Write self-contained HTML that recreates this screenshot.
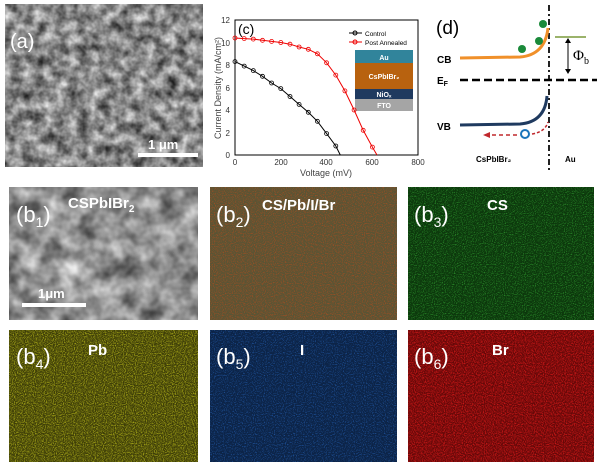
<!DOCTYPE html><html><head><style>body{margin:0;background:#fff;width:600px;height:465px;overflow:hidden;font-family:"Liberation Sans",sans-serif}</style></head><body>
<svg width="600" height="465" viewBox="0 0 600 465" xmlns="http://www.w3.org/2000/svg" font-family="Liberation Sans, sans-serif">
<defs>
<filter id="sem" x="0" y="0" width="100%" height="100%" color-interpolation-filters="sRGB"><feTurbulence type="fractalNoise" baseFrequency="0.09" numOctaves="3" seed="3"/><feColorMatrix type="matrix" values="1 0 0 0 0.03  1 0 0 0 0.03  1 0 0 0 0.03  0 0 0 0 1"/></filter>
<filter id="sem2" x="0" y="0" width="100%" height="100%" color-interpolation-filters="sRGB"><feTurbulence type="fractalNoise" baseFrequency="0.05" numOctaves="3" seed="7"/><feColorMatrix type="matrix" values="0.9 0 0 0 0.12  0.9 0 0 0 0.12  0.9 0 0 0 0.12  0 0 0 0 1"/></filter>
<filter id="dG" x="0" y="0" width="100%" height="100%" color-interpolation-filters="sRGB"><feTurbulence type="fractalNoise" baseFrequency="0.9" numOctaves="1" seed="2"/><feColorMatrix type="matrix" values="0 0 0 0 0.2  0 0 0 0 0.65  0 0 0 0 0.2  2.5 0 0 0 -1.2"/></filter>
<filter id="dY" x="0" y="0" width="100%" height="100%" color-interpolation-filters="sRGB"><feTurbulence type="fractalNoise" baseFrequency="0.9" numOctaves="1" seed="4"/><feColorMatrix type="matrix" values="0 0 0 0 0.72  0 0 0 0 0.72  0 0 0 0 0.1  2.5 0 0 0 -1.05"/></filter>
<filter id="dB" x="0" y="0" width="100%" height="100%" color-interpolation-filters="sRGB"><feTurbulence type="fractalNoise" baseFrequency="0.9" numOctaves="1" seed="5"/><feColorMatrix type="matrix" values="0 0 0 0 0.15  0 0 0 0 0.4  0 0 0 0 0.75  2.5 0 0 0 -1.25"/></filter>
<filter id="dR" x="0" y="0" width="100%" height="100%" color-interpolation-filters="sRGB"><feTurbulence type="fractalNoise" baseFrequency="0.9" numOctaves="1" seed="6"/><feColorMatrix type="matrix" values="0 0 0 0 0.85  0 0 0 0 0.1  0 0 0 0 0.1  2.5 0 0 0 -1.0"/></filter>
<filter id="dM" x="0" y="0" width="100%" height="100%" color-interpolation-filters="sRGB"><feTurbulence type="fractalNoise" baseFrequency="0.9" numOctaves="1" seed="8"/><feColorMatrix type="matrix" values="0 0 0 0 0.7  0 0 0 0 0.3  0 0 0 0 0.12  2.5 0 0 0 -1.15"/></filter>
</defs>
<rect x="5" y="4" width="198" height="163" fill="#888" filter="url(#sem)"/>
<text x="10" y="48" font-size="20" fill="#fff">(a)</text>
<rect x="138" y="153" width="60" height="4" fill="#fff"/>
<text x="148" y="149" font-size="13" font-weight="bold" fill="#fff">1 μm</text>
<rect x="235" y="20" width="183" height="135" fill="#fff" stroke="#000" stroke-width="1"/>
<g font-size="8" fill="#333" text-anchor="middle">
<text x="235" y="165">0</text><text x="281" y="165">200</text><text x="326" y="165">400</text><text x="372" y="165">600</text><text x="418" y="165">800</text>
<text x="230" y="158" text-anchor="end">0</text><text x="230" y="136" text-anchor="end">2</text><text x="230" y="113" text-anchor="end">4</text><text x="230" y="91" text-anchor="end">6</text><text x="230" y="68" text-anchor="end">8</text><text x="230" y="46" text-anchor="end">10</text><text x="230" y="23" text-anchor="end">12</text>
</g>
<text x="326" y="176" font-size="9" fill="#444" text-anchor="middle">Voltage (mV)</text>
<text transform="translate(221,88) rotate(-90)" font-size="9" fill="#444" text-anchor="middle">Current Density (mA/cm²)</text>
<text x="238" y="34" font-size="14" fill="#000">(c)</text>
<line x1="349" y1="33" x2="362" y2="33" stroke="#000"/><circle cx="355" cy="33" r="2" fill="none" stroke="#000"/><text x="365" y="36" font-size="6.5">Control</text>
<line x1="349" y1="42" x2="362" y2="42" stroke="#e00"/><circle cx="355" cy="42" r="2" fill="none" stroke="#e00"/><text x="365" y="45" font-size="6.5">Post Annealed</text>
<rect x="355" y="50" width="58" height="13" fill="#31849b"/><text x="384" y="60" font-size="7" font-weight="bold" fill="#fff" text-anchor="middle">Au</text>
<rect x="355" y="63" width="58" height="26" fill="#b8620f"/><text x="384" y="79" font-size="7" font-weight="bold" fill="#fff" text-anchor="middle">CsPbIBr₂</text>
<rect x="355" y="89" width="58" height="10" fill="#1f3a5f"/><text x="384" y="97" font-size="7" font-weight="bold" fill="#fff" text-anchor="middle">NiOₓ</text>
<rect x="355" y="99" width="58" height="12" fill="#a5a5a5"/><text x="384" y="108" font-size="7" font-weight="bold" fill="#fff" text-anchor="middle">FTO</text>
<polyline fill="none" stroke="#000" stroke-width="1" points="235,61.6 244.2,66.1 253.3,70.6 262.5,76.3 271.6,83 280.8,88.6 290,96.5 299.1,104.4 308.3,112.3 317.4,121.3 326.6,133.6 335.8,146 340.3,155"/>
<g fill="none" stroke="#000" stroke-width="0.8"><circle cx="235" cy="61.6" r="2"/><circle cx="244.2" cy="66.1" r="2"/><circle cx="253.3" cy="70.6" r="2"/><circle cx="262.5" cy="76.3" r="2"/><circle cx="271.6" cy="83" r="2"/><circle cx="280.8" cy="88.6" r="2"/><circle cx="290" cy="96.5" r="2"/><circle cx="299.1" cy="104.4" r="2"/><circle cx="308.3" cy="112.3" r="2"/><circle cx="317.4" cy="121.3" r="2"/><circle cx="326.6" cy="133.6" r="2"/><circle cx="335.8" cy="146" r="2"/></g>
<polyline fill="none" stroke="#e00" stroke-width="1" points="235,38 244.2,38.6 253.3,39.1 262.5,40.3 271.6,41.4 280.8,42.5 290,44.2 299.1,47 308.3,49.3 317.4,53.8 326.6,62.8 335.8,75.1 344.9,90.9 354.1,110 363.2,130.3 372.4,147.1 377,155"/>
<g fill="none" stroke="#e00" stroke-width="0.8"><circle cx="235" cy="38" r="2"/><circle cx="244.2" cy="38.6" r="2"/><circle cx="253.3" cy="39.1" r="2"/><circle cx="262.5" cy="40.3" r="2"/><circle cx="271.6" cy="41.4" r="2"/><circle cx="280.8" cy="42.5" r="2"/><circle cx="290" cy="44.2" r="2"/><circle cx="299.1" cy="47" r="2"/><circle cx="308.3" cy="49.3" r="2"/><circle cx="317.4" cy="53.8" r="2"/><circle cx="326.6" cy="62.8" r="2"/><circle cx="335.8" cy="75.1" r="2"/><circle cx="344.9" cy="90.9" r="2"/><circle cx="354.1" cy="110" r="2"/><circle cx="363.2" cy="130.3" r="2"/><circle cx="372.4" cy="147.1" r="2"/></g>
<text x="436" y="34" font-size="19">(d)</text>
<line x1="549" y1="5" x2="549" y2="172" stroke="#222" stroke-width="2" stroke-dasharray="6,3,2,3"/>
<line x1="460" y1="80" x2="597" y2="80" stroke="#000" stroke-width="2.5" stroke-dasharray="8,4"/>
<path d="M460,58 L520,57 Q545,55 548,28" fill="none" stroke="#f0902a" stroke-width="3"/>
<path d="M460,125 L520,124 Q545,122 547,96" fill="none" stroke="#1f3a5f" stroke-width="3"/>
<line x1="555" y1="37" x2="586" y2="37" stroke="#7a9a3a" stroke-width="1.5"/>
<line x1="568" y1="40" x2="568" y2="72" stroke="#000" stroke-width="1"/><polygon points="565,43 571,43 568,38"/><polygon points="565,69 571,69 568,74"/>
<text x="573" y="60" font-size="15" font-family="Liberation Serif, serif">Φ<tspan font-size="10" dy="4">b</tspan></text>
<circle cx="543" cy="24" r="4" fill="#1a8a3a"/><circle cx="539" cy="41" r="4" fill="#1a8a3a"/><circle cx="522" cy="49" r="4" fill="#1a8a3a"/>
<circle cx="525" cy="134" r="4" fill="none" stroke="#1b75bb" stroke-width="2"/>
<path d="M517,135 L486,135" stroke="#c0282d" stroke-width="1.5" stroke-dasharray="4,3" fill="none"/><polygon points="483,135 490,132 490,138" fill="#c0282d"/>
<path d="M532,134 Q545,132 548,122" stroke="#c0282d" stroke-width="1.5" stroke-dasharray="3,2" fill="none"/>
<text x="437" y="63" font-size="10" font-weight="bold">CB</text>
<text x="437" y="84" font-size="10" font-weight="bold">E<tspan font-size="7" dy="2">F</tspan></text>
<text x="437" y="130" font-size="10" font-weight="bold">VB</text>
<text x="476" y="162" font-size="8" font-weight="bold">CsPbIBr₂</text>
<text x="565" y="162" font-size="8" font-weight="bold">Au</text>
<rect x="9" y="187" width="189" height="133" fill="#aaa" filter="url(#sem2)"/>
<text x="16" y="222" font-size="22" fill="#fff">(b<tspan font-size="14" dy="5">1</tspan><tspan dy="-5">)</tspan></text>
<text x="68" y="208" font-size="15" font-weight="bold" fill="#fff">CSPbIBr<tspan font-size="10" dy="4">2</tspan></text>
<rect x="22" y="303" width="64" height="4" fill="#fff"/><text x="38" y="298" font-size="13" font-weight="bold" fill="#fff">1μm</text>
<rect x="210" y="187" width="187" height="133" fill="#5a5434"/>
<rect x="210" y="187" width="187" height="133" fill="#000" filter="url(#dM)"/>
<text x="216" y="222" font-size="22" fill="#fff">(b<tspan font-size="14" dy="5">2</tspan><tspan dy="-5">)</tspan></text>
<text x="262" y="210" font-size="15" font-weight="bold" fill="#fff">CS/Pb/I/Br</text>
<rect x="408" y="187" width="186" height="133" fill="#0c380c"/>
<rect x="408" y="187" width="186" height="133" fill="#000" filter="url(#dG)"/>
<text x="414" y="222" font-size="22" fill="#fff">(b<tspan font-size="14" dy="5">3</tspan><tspan dy="-5">)</tspan></text>
<text x="487" y="210" font-size="15" font-weight="bold" fill="#fff">CS</text>
<rect x="9" y="330" width="189" height="132" fill="#3e3e08"/>
<rect x="9" y="330" width="189" height="132" fill="#000" filter="url(#dY)"/>
<text x="16" y="364" font-size="22" fill="#fff">(b<tspan font-size="14" dy="5">4</tspan><tspan dy="-5">)</tspan></text>
<text x="88" y="355" font-size="15" font-weight="bold" fill="#fff">Pb</text>
<rect x="210" y="330" width="187" height="132" fill="#0c2448"/>
<rect x="210" y="330" width="187" height="132" fill="#000" filter="url(#dB)"/>
<text x="216" y="364" font-size="22" fill="#fff">(b<tspan font-size="14" dy="5">5</tspan><tspan dy="-5">)</tspan></text>
<text x="300" y="355" font-size="15" font-weight="bold" fill="#fff">I</text>
<rect x="408" y="330" width="186" height="132" fill="#640808"/>
<rect x="408" y="330" width="186" height="132" fill="#000" filter="url(#dR)"/>
<text x="414" y="364" font-size="22" fill="#fff">(b<tspan font-size="14" dy="5">6</tspan><tspan dy="-5">)</tspan></text>
<text x="492" y="355" font-size="15" font-weight="bold" fill="#fff">Br</text>
</svg>
</body></html>
